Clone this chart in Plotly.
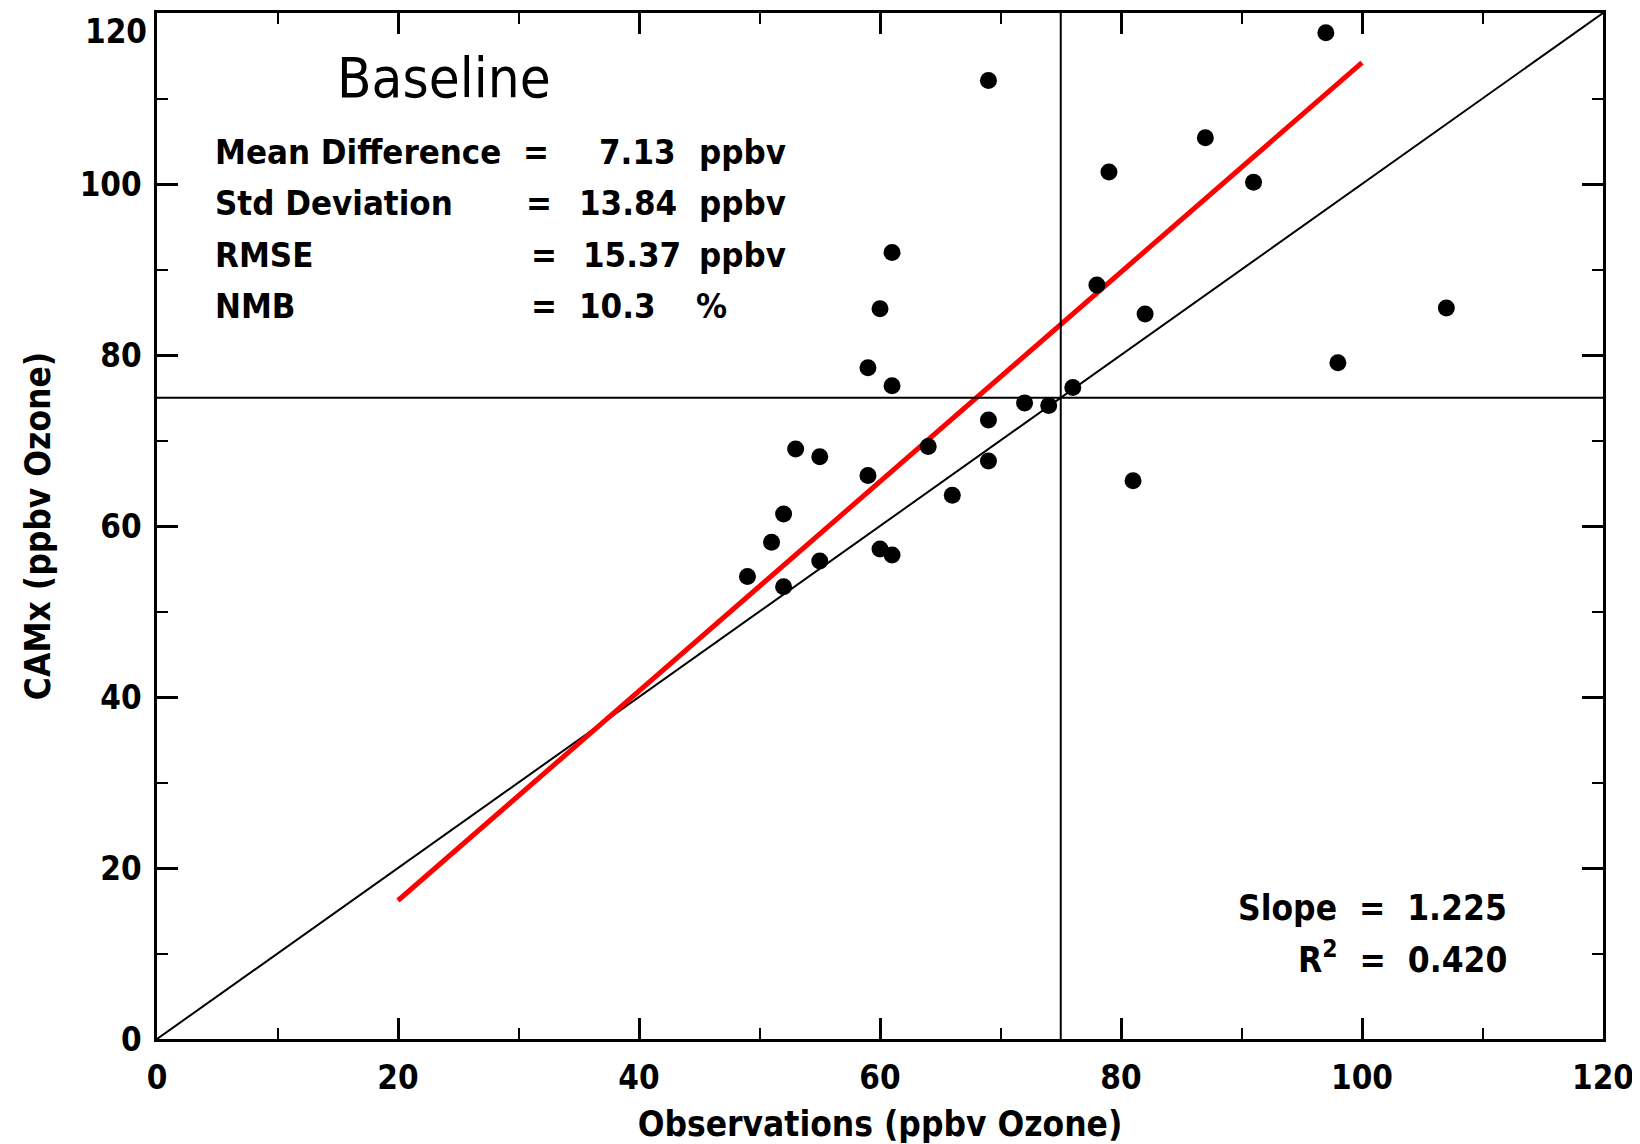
import plotly.graph_objects as go

# Observations (x) and CAMx (y), ppbv ozone
obs = [97, 69, 87, 79, 91, 61, 60, 78, 82, 107, 98, 59, 61, 76, 72, 74, 69, 64,
       53, 55, 69, 59, 81, 66, 52, 51, 60, 61, 55, 49, 52]
camx = [117.7, 112.1, 105.4, 101.4, 100.2, 92.0, 85.4, 88.2, 84.8, 85.5, 79.1,
        78.5, 76.4, 76.2, 74.4, 74.1, 72.4, 69.3, 69.0, 68.1, 67.6, 65.9, 65.3,
        63.6, 61.4, 58.1, 57.3, 56.6, 55.9, 54.1, 52.9]

fit_slope = 1.225
fit_intercept = -8.3
fit_r2 = "0.420"
fit_x = [20, 100]
fit_y = [fit_slope * v + fit_intercept for v in fit_x]

standard = 75
axis_range = [0, 120]
tick_vals = [0, 20, 40, 60, 80, 100, 120]
y_tick_text = ["0", "20", "40", "60", "80", "100", ""]  # 120 drawn separately

stat_labels = ["Mean Difference", "Std Deviation", "RMSE", "NMB"]
stat_values = ["7.13", "13.84", "15.37", "10.3"]
stat_units = ["ppbv", "ppbv", "ppbv", "%"]
stat_rows_y = [103.75, 97.75, 91.75, 85.75]

FONT = "DejaVu Sans Condensed, DejaVu Sans, sans-serif"

fig = go.Figure()

# 1:1 line
fig.add_trace(go.Scatter(x=axis_range, y=axis_range, mode="lines",
                         line=dict(color="black", width=2), showlegend=False,
                         hoverinfo="skip"))
# regression line
fig.add_trace(go.Scatter(x=fit_x, y=fit_y, mode="lines",
                         line=dict(color="#ff0000", width=5), showlegend=False))
# data points
fig.add_trace(go.Scatter(x=obs, y=camx, mode="markers",
                         marker=dict(color="black", size=17, line=dict(width=0)),
                         showlegend=False))

fig.add_shape(type="line", x0=standard, x1=standard, y0=0, y1=120,
              xref="x", yref="y", line=dict(color="black", width=2))
fig.add_shape(type="line", x0=0, x1=120, y0=standard, y1=standard,
              xref="x", yref="y", line=dict(color="black", width=2))

ann = []
ann.append(dict(x=14.8, y=112.45, xref="x", yref="y", text="Baseline",
                showarrow=False, xanchor="left", yanchor="middle",
                font=dict(family=FONT, size=56, color="black")))
eq_x = [31.45, 31.7, 32.1, 32.1]
val_x = [43.24, 43.36, 43.65, 41.55]
unit_x = [44.8, 44.8, 44.8, 44.56]
sfont = dict(family=FONT, size=34.5, color="black", weight="bold")
for i, lab in enumerate(stat_labels):
    yy = stat_rows_y[i]
    ann.append(dict(x=4.65, y=yy, xref="x", yref="y", text=lab, showarrow=False,
                    xanchor="left", yanchor="middle", font=sfont))
    ann.append(dict(x=eq_x[i], y=yy, xref="x", yref="y", text="=", showarrow=False,
                    xanchor="center", yanchor="middle", font=sfont))
    ann.append(dict(x=val_x[i], y=yy, xref="x", yref="y", text=stat_values[i],
                    showarrow=False, xanchor="right", yanchor="middle", font=sfont))
    ann.append(dict(x=unit_x[i], y=yy, xref="x", yref="y", text=stat_units[i],
                    showarrow=False, xanchor="left", yanchor="middle", font=sfont))

bfont = dict(family=FONT, size=35, color="black", weight="bold")
ann.append(dict(x=112.2, y=15.3, xref="x", yref="y",
                text="Slope  =  %.3f" % fit_slope, showarrow=False,
                xanchor="right", yanchor="middle", font=bfont))
ann.append(dict(x=112.2, y=9.6, xref="x", yref="y",
                text="R<sup>2</sup>  =  " + fit_r2, showarrow=False,
                xanchor="right", yanchor="middle", font=bfont))
# top y tick label, kept inside the figure as in the reference
ann.append(dict(x=0, y=tick_vals[-1], xref="paper", yref="y",
                text=str(tick_vals[-1]), showarrow=False, xanchor="right",
                yanchor="top", xshift=-9, yshift=2, borderpad=0,
                font=dict(family=FONT, size=33, color="black", weight="bold")))

axis_common = dict(
    range=axis_range, tickvals=tick_vals, ticks="inside", ticklen=21,
    tickwidth=2.5, tickcolor="black", showline=True, linecolor="black",
    linewidth=2.5, mirror="ticks", showgrid=False, zeroline=False,
    ticklabeloverflow="allow",
    minor=dict(ticks="inside", ticklen=11, tickwidth=2, dtick=10,
               tickcolor="black", showgrid=False),
    tickfont=dict(family=FONT, size=33, color="black", weight="bold"),
)

fig.update_layout(
    width=1632, height=1136,
    margin=dict(l=149, r=37, t=2, b=105),
    paper_bgcolor="white", plot_bgcolor="white",
    xaxis=dict(axis_common,
               title=dict(text="Observations (ppbv Ozone)", standoff=16,
                          font=dict(family=FONT, size=35, color="black",
                                    weight="bold")),
               ticklabelstandoff=8),
    yaxis=dict(axis_common, ticktext=y_tick_text,
               title=dict(text="CAMx (ppbv Ozone)", standoff=19,
                          font=dict(family=FONT, size=35, color="black",
                                    weight="bold")),
               ticklabelstandoff=6),
    annotations=ann,
)

fig.write_html("out.html")
